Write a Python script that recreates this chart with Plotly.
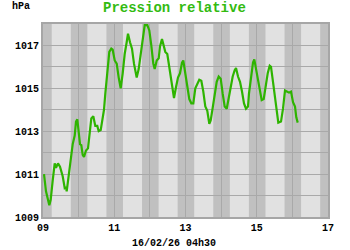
import plotly.graph_objects as go

# time in days (day-of-month, decimal) and relative pressure (hPa)
days = [9.028, 9.084, 9.177, 9.216, 9.272, 9.328, 9.365, 9.421, 9.477, 9.553,
        9.609, 9.646, 9.665, 9.721, 9.778, 9.834, 9.890, 9.926, 9.963, 10.002,
        10.039, 10.075, 10.114, 10.151, 10.207, 10.263, 10.300, 10.356, 10.412, 10.468,
        10.524, 10.564, 10.620, 10.676, 10.712, 10.749, 10.788, 10.825, 10.861, 10.917,
        10.956, 11.013, 11.069, 11.125, 11.181, 11.237, 11.293, 11.349, 11.386, 11.442,
        11.498, 11.554, 11.630, 11.686, 11.742, 11.799, 11.855, 11.928, 11.984, 12.040,
        12.096, 12.135, 12.192, 12.248, 12.284, 12.340, 12.396, 12.433, 12.489, 12.528,
        12.585, 12.641, 12.677, 12.733, 12.789, 12.846, 12.902, 12.938, 12.994, 13.051,
        13.107, 13.163, 13.219, 13.275, 13.331, 13.387, 13.444, 13.500, 13.556, 13.612,
        13.668, 13.707, 13.764, 13.820, 13.876, 13.932, 13.988, 14.044, 14.100, 14.157,
        14.213, 14.269, 14.325, 14.381, 14.418, 14.474, 14.530, 14.586, 14.642, 14.698,
        14.754, 14.782, 14.838, 14.895, 14.931, 14.987, 15.027, 15.083, 15.139, 15.195,
        15.251, 15.308, 15.364, 15.400, 15.456, 15.512, 15.568, 15.605, 15.681, 15.737,
        15.793, 15.849, 15.905, 15.962, 16.018, 16.074, 16.110, 16.150]
pressure = [1011.0, 1010.2, 1009.55, 1009.8, 1010.7, 1011.5, 1011.3, 1011.5, 1011.35, 1010.9,
            1010.35, 1010.4, 1010.2, 1010.9, 1011.65, 1012.4, 1012.8, 1013.45, 1013.55, 1013.05,
            1012.4, 1012.35, 1011.9, 1011.8, 1012.1, 1012.2, 1012.75, 1013.6, 1013.7, 1013.25,
            1013.25, 1013.0, 1013.05, 1013.65, 1014.0, 1014.75, 1015.4, 1016.15, 1016.7, 1016.85,
            1016.8, 1016.3, 1016.15, 1015.5, 1015.0, 1015.7, 1016.6, 1017.15, 1017.55, 1017.15,
            1016.85, 1016.15, 1015.5, 1015.9, 1016.6, 1017.4, 1017.95, 1017.95, 1017.7, 1017.0,
            1016.15, 1015.9, 1016.3, 1016.4, 1016.95, 1017.3, 1017.0, 1016.7, 1016.6, 1016.15,
            1015.5, 1015.0, 1014.55, 1015.05, 1015.5, 1015.7, 1016.2, 1016.3, 1015.75, 1015.2,
            1014.5, 1014.3, 1014.3, 1015.0, 1015.2, 1015.4, 1015.35, 1014.85, 1014.15, 1013.95,
            1013.35, 1013.5, 1014.1, 1014.75, 1015.3, 1015.55, 1015.45, 1014.75, 1014.15, 1014.05,
            1014.6, 1015.15, 1015.55, 1015.85, 1015.95, 1015.55, 1015.3, 1014.85, 1014.3, 1014.05,
            1014.15, 1014.75, 1015.5, 1016.2, 1016.35, 1015.85, 1015.4, 1015.05, 1014.45, 1014.5,
            1015.2, 1015.7, 1016.05, 1016.0, 1015.3, 1014.6, 1013.8, 1013.4, 1013.45, 1014.05,
            1014.9, 1014.85, 1014.8, 1014.85, 1014.35, 1014.15, 1013.65, 1013.4]

x_ticks = [9, 10, 11, 12, 13, 14, 15, 16, 17]
x_labels = ["09", "", "11", "", "13", "", "15", "", "17"]
y_ticks = [1009, 1010, 1011, 1012, 1013, 1014, 1015, 1016, 1017, 1018]
y_labels = ["1009", "", "1011", "", "1013", "", "1015", "", "1017", ""]

night_start_frac = 0.78   # fraction of day when night begins
night_end_frac = 0.245    # fraction of day when night ends
title_text = "Pression relative"
unit_text = "hPa"
stamp_text = "16/02/26 04h30"

MONO = "Liberation Mono, Courier New, monospace"

fig = go.Figure()
fig.add_trace(go.Scatter(x=days, y=pressure, mode="lines",
                         line=dict(color="#2eb400", width=2.2),
                         hoverinfo="skip"))

shapes = []
# night bands
shapes.append(dict(type="rect", xref="x", yref="paper", x0=9, x1=9 + night_end_frac,
                   y0=0, y1=1, fillcolor="#c0c0c0", line_width=0, layer="below"))
for d in range(9, 17):
    x0 = d + night_start_frac
    x1 = min(d + 1 + night_end_frac, 17)
    shapes.append(dict(type="rect", xref="x", yref="paper", x0=x0, x1=x1,
                       y0=0, y1=1, fillcolor="#c0c0c0", line_width=0, layer="below"))
fig.update_layout(shapes=shapes)

fig.update_layout(
    width=350, height=250,
    margin=dict(l=43, r=22, t=24, b=33),
    paper_bgcolor="white", plot_bgcolor="#e1e1e1",
    showlegend=False,
    font=dict(family=MONO, size=10, color="black"),
    annotations=[
        dict(text="<b>" + title_text + "</b>", xref="paper", yref="paper",
             x=0.46, y=1, yshift=16, xanchor="center", yanchor="middle", showarrow=False,
             font=dict(family=MONO, size=14, color="#33bb11")),
        dict(text="<b>" + unit_text + "</b>", x=10, y=7, xref="paper", yref="paper",
             showarrow=False, xanchor="left", yanchor="middle",
             font=dict(family=MONO, size=10, color="black")),
        dict(text="<b>" + stamp_text + "</b>", xref="paper", yref="paper",
             x=0.46, y=0, yshift=-26, xanchor="center", yanchor="middle", showarrow=False,
             font=dict(family=MONO, size=10, color="black")),
    ],
)
# fix hPa annotation to pixel position
fig.layout.annotations[1].update(x=-43 / 285 + 10 / 285, y=1 + 18 / 193)

fig.update_xaxes(range=[9, 17], tickvals=x_ticks, ticktext=x_labels,
                 showgrid=True, gridcolor="#a9a9a9", gridwidth=1,
                 showline=True, mirror=True, linecolor="#a6a6a6", linewidth=2,
                 ticks="", zeroline=False,
                 tickfont=dict(family=MONO, size=10, color="black", weight="bold"))
fig.update_yaxes(range=[1009, 1018], tickvals=y_ticks, ticktext=y_labels,
                 showgrid=True, gridcolor="#a9a9a9", gridwidth=1,
                 showline=True, mirror=True, linecolor="#a6a6a6", linewidth=2,
                 ticks="", zeroline=False,
                 tickfont=dict(family=MONO, size=10, color="black", weight="bold"))

fig.write_html("out.html")
